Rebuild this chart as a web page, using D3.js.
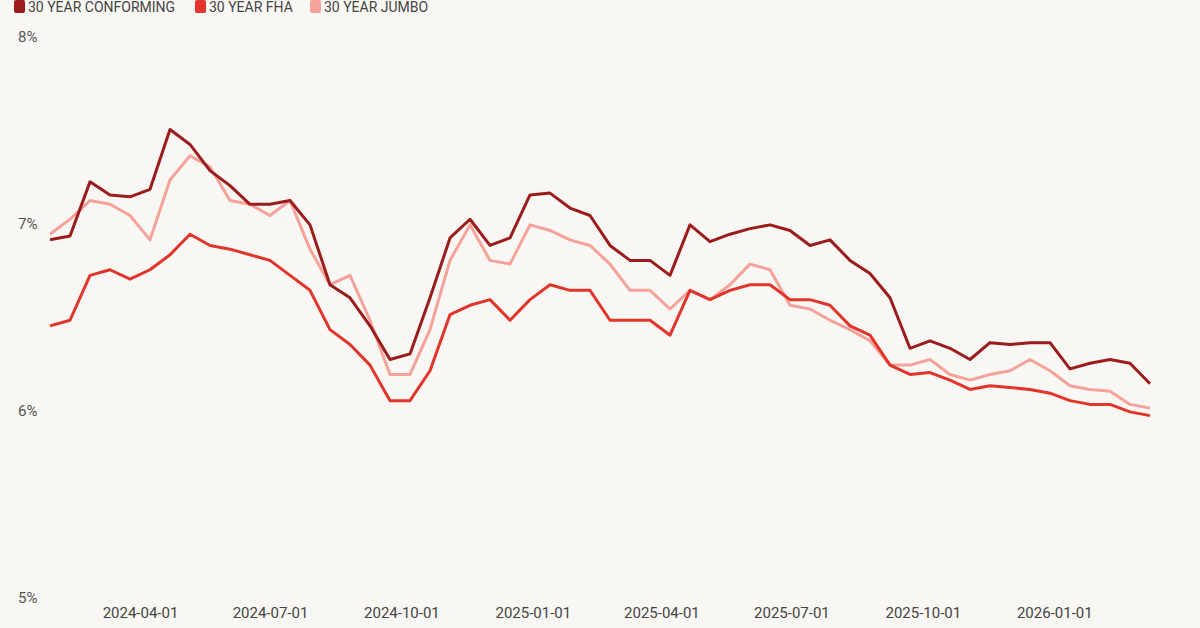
<!DOCTYPE html>
<html><head><meta charset="utf-8">
<script src="https://cdn.jsdelivr.net/npm/d3@7"></script>
<style>body{margin:0;background:#f9f7f3;}</style>
</head><body>
<script>
// biweekly observations starting 2024-01-29
var startDate = "2024-01-29";
var conforming = [6.91,6.93,7.22,7.15,7.14,7.18,7.5,7.42,7.28,7.2,7.1,7.1,7.12,6.99,6.67,6.6,6.45,6.27,6.3,6.6,6.92,7.02,6.88,6.92,7.15,7.16,7.08,7.04,6.88,6.8,6.8,6.72,6.99,6.9,6.94,6.97,6.99,6.96,6.88,6.91,6.8,6.73,6.6,6.33,6.37,6.33,6.27,6.36,6.35,6.36,6.36,6.22,6.25,6.27,6.25,6.14];
var fha = [6.45,6.48,6.72,6.75,6.7,6.75,6.83,6.94,6.88,6.86,6.83,6.8,6.72,6.64,6.43,6.35,6.24,6.05,6.05,6.21,6.51,6.56,6.59,6.48,6.59,6.67,6.64,6.64,6.48,6.48,6.48,6.4,6.64,6.59,6.64,6.67,6.67,6.59,6.59,6.56,6.45,6.4,6.24,6.19,6.2,6.16,6.11,6.13,6.12,6.11,6.09,6.05,6.03,6.03,5.99,5.97];
var jumbo = [6.94,7.02,7.12,7.1,7.04,6.91,7.23,7.36,7.3,7.12,7.1,7.04,7.12,6.86,6.67,6.72,6.48,6.19,6.19,6.43,6.8,6.99,6.8,6.78,6.99,6.96,6.91,6.88,6.78,6.64,6.64,6.54,6.64,6.59,6.67,6.78,6.75,6.56,6.54,6.48,6.43,6.37,6.24,6.24,6.27,6.19,6.16,6.19,6.21,6.27,6.21,6.13,6.11,6.1,6.03,6.01];
var seriesNames = ["30 YEAR CONFORMING","30 YEAR FHA","30 YEAR JUMBO"];
var seriesColors = ["#9b1c1c","#e1352b","#f5a29a"];
var yTicks = [5,6,7,8];
var xTicks = ["2024-04-01","2024-07-01","2024-10-01","2025-01-01","2025-04-01","2025-07-01","2025-10-01","2026-01-01"];

var parse = d3.timeParse("%Y-%m-%d");
var t0 = parse(startDate);
var dates = conforming.map(function(d,i){return d3.timeDay.offset(t0, i*14);});
var font = "'Liberation Sans Narrow','Roboto',sans-serif";

var svg = d3.select("body").append("svg").attr("width",1200).attr("height",628);

var x = d3.scaleTime().domain([t0, dates[dates.length-1]]).range([50,1150]);
var y = d3.scaleLinear().domain([5,8]).range([597,36]);

// y labels
svg.selectAll(".yl").data(yTicks).enter().append("text")
   .attr("x",18).attr("y",function(d){return y(d)+6;})
   .text(function(d){return d+"%";})
   .style("font-family",font).style("font-size","15px").attr("fill","#555");

// x axis labels
var xAxis = d3.axisBottom(x).tickValues(xTicks.map(parse)).tickFormat(d3.timeFormat("%Y-%m-%d")).tickSize(0);
var gx = svg.append("g").attr("transform","translate(0,604)").call(xAxis);
gx.select(".domain").remove();
gx.selectAll("text").style("font-family",font).style("font-size","15px").attr("fill","#444");

var line = d3.line().x(function(d,i){return x(dates[i]);}).y(function(d){return y(d);});
var all = [conforming, fha, jumbo];
[2,1,0].forEach(function(k){
  svg.append("path").datum(all[k]).attr("d",line).attr("fill","none")
     .attr("stroke",seriesColors[k]).attr("stroke-width",3).attr("stroke-linejoin","round");
});

// legend
var lx = [14,195,310];
var lg = svg.selectAll(".lg").data(seriesNames).enter().append("g")
   .attr("transform",function(d,i){return "translate("+lx[i]+",0)";});
lg.append("rect").attr("x",0).attr("y",0).attr("width",11).attr("height",13).attr("rx",2)
   .attr("fill",function(d,i){return seriesColors[i];});
lg.append("text").attr("x",14).attr("y",12).text(function(d){return d;})
   .style("font-family",font).style("font-size","14px").attr("fill","#444");
</script>
</body></html>
